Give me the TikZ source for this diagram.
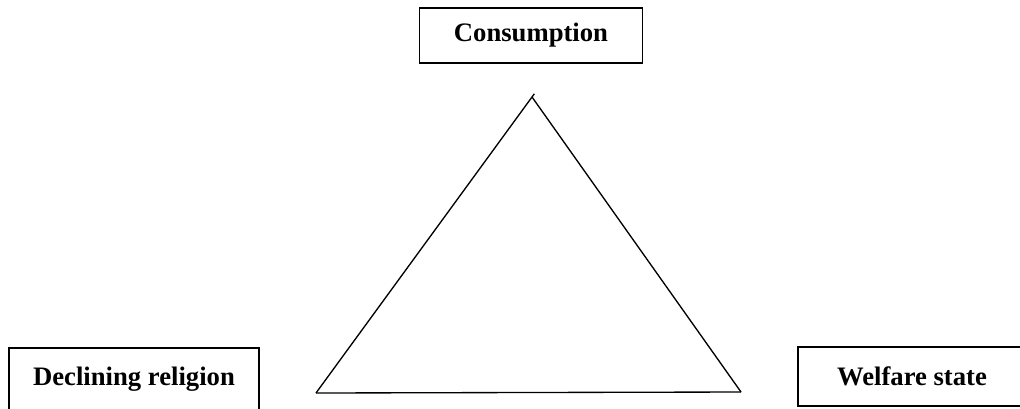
\documentclass[tikz,border=0pt]{standalone}
\usepackage{fontspec}
\setmainfont{Liberation Serif}
\begin{document}
\begin{tikzpicture}[x=0.75pt, y=-0.75pt, line width=1pt, every node/.style={font=\bfseries\fontsize{20}{24}\selectfont}]
	% Drei Faktoren am Dreieck
	\useasboundingbox (0,0) rectangle (1020,408);
	\tikzset{factor/.style={draw, line width=1.2pt, inner sep=0pt}}
	\node[factor, minimum width=167pt, minimum height=41pt] (C) at (531,35.5) {Consumption};
	\node[factor, minimum width=187.5pt, minimum height=46.5pt] (R) at (134,379) {Declining religion};
	\node[factor, minimum width=171pt, minimum height=44.25pt] (W) at (912,376.5) {Welfare state};
	
	\coordinate (top) at (532,97);
	\coordinate (left) at (316,393);
	\coordinate (right) at (741,392);
	\draw[shorten >=-3pt] (left) -- (top);
	\draw (right) -- (top);
	\draw (left) -- (right);
\end{tikzpicture}
\end{document}
